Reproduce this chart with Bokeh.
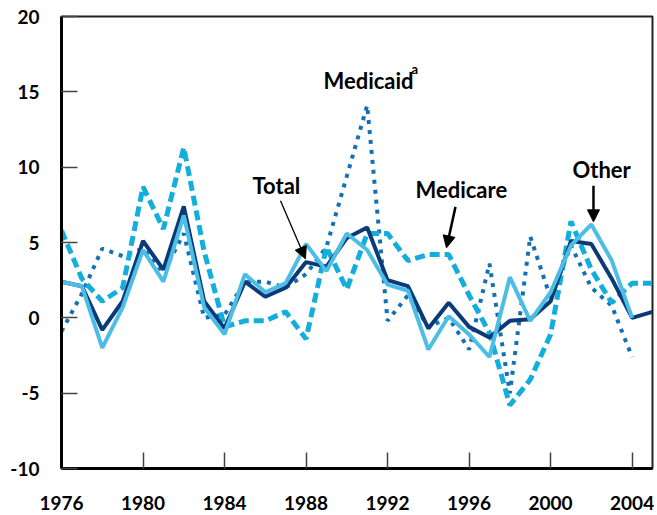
from bokeh.plotting import figure
from bokeh.models import FixedTicker, Label, Arrow, NormalHead
from bokeh.embed import file_html
from bokeh.resources import INLINE

years = list(range(1976, 2006))
total = [2.4, 2.1, -0.8, 1.1, 5.1, 3.2, 7.4, 1.1, -0.7, 2.4, 1.4, 2.0, 3.7, 3.4, 5.3,
         6.0, 2.5, 2.1, -0.7, 1.0, -0.6, -1.3, -0.2, -0.1, 1.1, 5.1, 4.9, 2.6, 0.0, 0.4]
other = [2.4, 2.1, -2.0, 0.7, 4.5, 2.4, 6.8, 0.7, -1.1, 2.9, 1.7, 2.3, 4.9, 3.1, 5.6,
         4.5, 2.2, 1.8, -2.1, 0.1, -1.1, -2.6, 2.7, -0.2, 1.7, 4.8, 6.2, 3.8, 0.0]
medicare = [5.8, 2.6, 1.1, 2.0, 8.7, 5.9, 11.3, 4.4, -0.6, -0.2, -0.2, 0.4, -1.4, 4.7, 1.9,
            5.6, 5.6, 3.8, 4.2, 4.2, 1.5, -1.0, -5.8, -4.1, -1.1, 6.4, 3.2, 1.0, 2.3, 2.3]
medicaid = [-0.9, 1.6, 4.6, 4.1, 4.6, 3.0, 5.6, 0.0, 0.2, 2.4, 2.4, 2.0, 2.9, 4.7, 9.4,
            14.1, -0.2, 1.5, -0.6, 0.0, -2.1, 3.6, -5.0, 5.4, 1.3, 4.8, 2.0, 0.8, -2.6]

x_ticks = [1976, 1980, 1984, 1988, 1992, 1996, 2000, 2004]
y_ticks = [-10, -5, 0, 5, 10, 15, 20]
y_tick_labels = {t: str(t) for t in y_ticks}

FONT = "Lato"

p = figure(frame_width=591, frame_height=452, x_range=(1976, 2005), y_range=(-10, 20),
           output_backend="svg", toolbar_location=None,
           min_border_left=61, min_border_top=16, min_border_right=2, min_border_bottom=44)

p.background_fill_color = "white"
p.xgrid.visible = False
p.ygrid.visible = False
p.outline_line_color = "#222222"
p.outline_line_width = 2

for ax, ticks in ((p.xaxis, x_ticks), (p.yaxis, y_ticks)):
    ax.ticker = FixedTicker(ticks=ticks)
    ax.axis_line_width = 3
    ax.axis_line_color = "black"
    ax.major_tick_in = 16
    ax.major_tick_out = 0
    ax.major_tick_line_color = "#444444"
    ax.major_tick_line_width = 1.5
    ax.minor_tick_line_color = None
    ax.major_label_text_font = FONT
    ax.major_label_text_font_style = "bold"
    ax.major_label_text_font_size = "19px"
    ax.major_label_text_color = "black"

p.xaxis.major_label_standoff = 27
p.yaxis.major_label_standoff = 22
p.yaxis.major_label_overrides = y_tick_labels

p.line(years[:len(medicaid)], medicaid, line_color="#1470b4", line_width=4, line_dash="4 6")
p.line(years, medicare, line_color="#13aedb", line_width=5, line_dash="10 5")
p.line(years, total, line_color="#0b3a78", line_width=4)
p.line(years[:len(other)], other, line_color="#4cbde4", line_width=4)

def px2x(px):
    return 1976 + (px - 61) / 20.38

def py2y(py):
    return (317 - py) / 15.07

def lab(text, px, py, size="22px"):
    p.add_layout(Label(x=px2x(px), y=py2y(py - 8), text=text, text_font=FONT,
                       text_font_style="bold", text_font_size=size, text_color="black",
                       text_baseline="alphabetic", text_align="left"))

lab("Medicaid", 323, 88)
lab("a", 411, 76, "13px")
lab("Total", 252, 193)
lab("Medicare", 415, 197)
lab("Other", 572, 177)

def arrow(x0, y0, x1, y1, w):
    p.add_layout(Arrow(end=NormalHead(size=12, fill_color="black", line_color="black"),
                       x_start=px2x(x0), y_start=py2y(y0), x_end=px2x(x1), y_end=py2y(y1),
                       line_width=w, line_color="black"))

arrow(280, 200, 305, 258, 1.3)
arrow(455, 206, 446, 247, 2.5)
arrow(593, 185, 593, 221, 2.5)

open("out.html", "w").write(file_html(p, INLINE))
